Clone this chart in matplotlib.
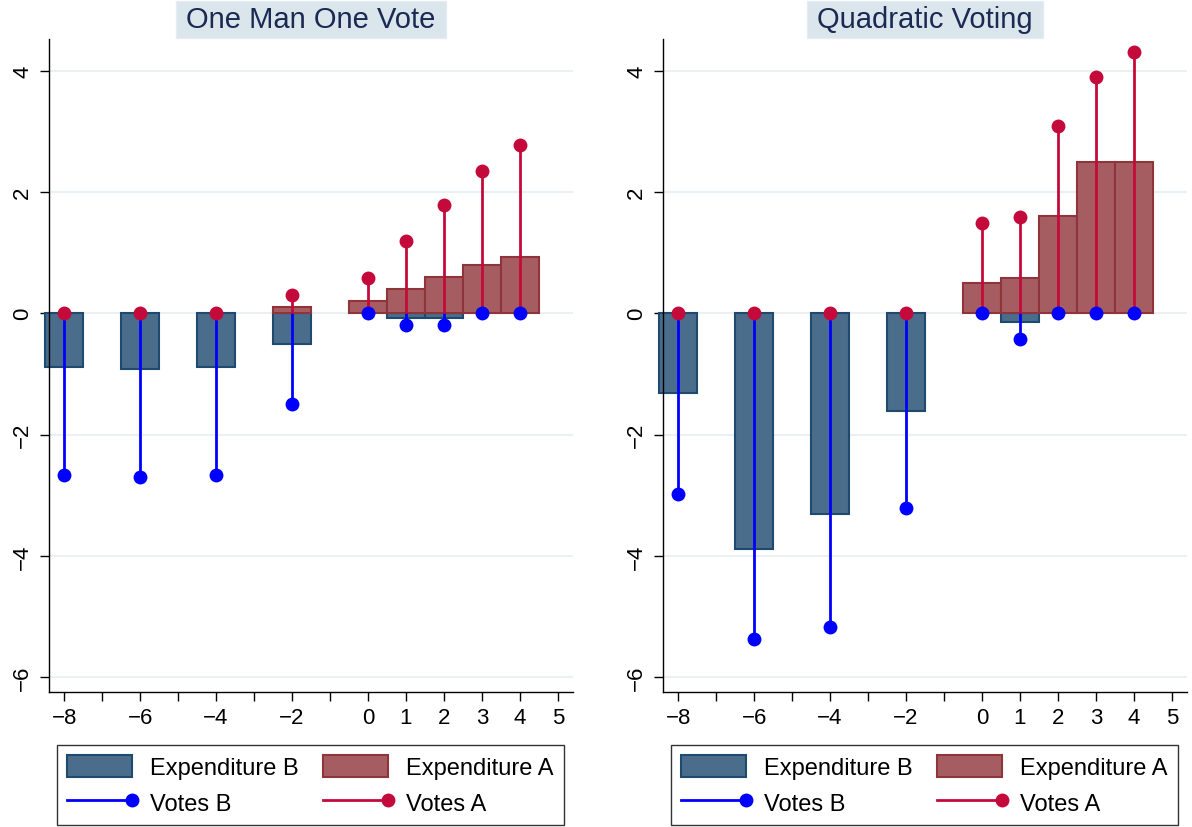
import numpy as np
import matplotlib
matplotlib.use("Agg")
import matplotlib.pyplot as plt
from matplotlib.patches import Patch, Rectangle
from matplotlib.lines import Line2D
from matplotlib.legend_handler import HandlerLine2D

plt.rcParams['font.family'] = ['Liberation Sans', 'DejaVu Sans']

# positions on the x axis
x = np.array([-8, -6, -4, -2, 0, 1, 2, 3, 4])

# One Man One Vote
omov_exp_b = np.array([-0.89, -0.91, -0.89, -0.51, 0.0, -0.07, -0.07, 0.0, 0.0])
omov_exp_a = np.array([0.0, 0.0, 0.0, 0.10, 0.20, 0.40, 0.60, 0.79, 0.93])
omov_votes_b = np.array([-2.66, -2.69, -2.66, -1.50, 0.0, -0.20, -0.20, 0.0, 0.0])
omov_votes_a = np.array([0.0, 0.0, 0.0, 0.30, 0.59, 1.19, 1.79, 2.35, 2.78])

# Quadratic Voting
qv_exp_b = np.array([-1.31, -3.89, -3.31, -1.61, 0.0, -0.14, 0.0, 0.0, 0.0])
qv_exp_a = np.array([0.0, 0.0, 0.0, 0.0, 0.50, 0.58, 1.60, 2.50, 2.50])
qv_votes_b = np.array([-2.97, -5.37, -5.17, -3.21, 0.0, -0.43, 0.0, 0.0, 0.0])
qv_votes_a = np.array([0.0, 0.0, 0.0, 0.0, 1.49, 1.59, 3.08, 3.89, 4.30])

xticks = list(range(-8, 6))
xticklabels = ['\u22128', '', '\u22126', '', '\u22124', '', '\u22122', '',
               '0', '1', '2', '3', '4', '5']
yticks = [-6, -4, -2, 0, 2, 4]
yticklabels = ['\u22126', '\u22124', '\u22122', '0', '2', '4']

B_FILL, B_EDGE = '#4a6d8c', '#1f4a70'
A_FILL, A_EDGE = '#a65d62', '#8f343b'
BLUE, RED = '#0000ff', '#c40a3a'

W, H = 1192, 828
fig = plt.figure(figsize=(W / 100, H / 100), dpi=100)


def px_axes(left, top, right, bottom):
    return fig.add_axes([left / W, 1 - bottom / H, (right - left) / W,
                         (bottom - top) / H])


class HandlerDrop(HandlerLine2D):
    # line with the marker at its right end, like Stata's dropline key
    def create_artists(self, legend, orig_handle, xdescent, ydescent,
                       width, height, fontsize, trans):
        arts = super().create_artists(legend, orig_handle, xdescent, ydescent,
                                      width, height, fontsize, trans)
        line = arts[0]
        line.set_markevery([len(line.get_xdata()) - 1])
        return arts


panels = [
    ("One Man One Vote", omov_exp_b, omov_exp_a, omov_votes_b, omov_votes_a,
     (49, 40, 573, 693), (57, 745, 564, 826)),
    ("Quadratic Voting", qv_exp_b, qv_exp_a, qv_votes_b, qv_votes_a,
     (663, 40, 1187, 693), (671, 745, 1178, 826)),
]

titles = []
for title, exp_b, exp_a, votes_b, votes_a, box, lbox in panels:
    ax = px_axes(*box)
    mb = exp_b != 0
    ma = exp_a != 0
    ax.bar(x[mb], exp_b[mb], width=1, color=B_FILL, edgecolor=B_EDGE,
           linewidth=1.5, zorder=2, clip_on=False)
    ax.bar(x[ma], exp_a[ma], width=1, color=A_FILL, edgecolor=A_EDGE,
           linewidth=1.5, zorder=3, clip_on=False)
    ax.vlines(x, 0, votes_b, color=BLUE, lw=2, zorder=4)
    ax.vlines(x, 0, votes_a, color=RED, lw=2, zorder=5)
    ax.plot(x, votes_b, 'o', color=BLUE, ms=10, mec='none', zorder=6)
    ax.plot(x, votes_a, 'o', color=RED, ms=10, mec='none', zorder=7)

    ax.set_xlim(-8.40, 5.40)
    ax.set_ylim(-6.24, 4.52)
    ax.set_xticks(xticks)
    ax.set_xticklabels(xticklabels)
    ax.set_yticks(yticks)
    ax.set_yticklabels(yticklabels, rotation=90, va='center')
    ax.tick_params(direction='out', length=6.5, width=1, labelsize=16,
                   colors='black')
    ax.tick_params(axis='y', pad=5)
    ax.tick_params(axis='x', pad=4)
    ax.yaxis.grid(True, color='#eaf0f3', lw=1.5)
    ax.set_axisbelow(True)
    for s in ['top', 'right']:
        ax.spines[s].set_visible(False)
    for s in ['left', 'bottom']:
        ax.spines[s].set_linewidth(1)

    cx = (box[0] + box[2]) / 2
    t = fig.text(cx / W, 1 - 20.5 / H, title, ha='center', va='center',
                 fontsize=21, color='#1b2a52', zorder=3)
    titles.append(t)

    handles = [Patch(facecolor=B_FILL, edgecolor=B_EDGE, lw=1.5),
               Line2D([], [], color=BLUE, lw=2, marker='o', ms=10, mec='none'),
               Patch(facecolor=A_FILL, edgecolor=A_EDGE, lw=1.5),
               Line2D([], [], color=RED, lw=2, marker='o', ms=10, mec='none')]
    labels = ['Expenditure B', 'Votes B', 'Expenditure A', 'Votes A']
    l, tp, r, b = lbox
    leg = fig.legend(handles, labels, loc='lower left',
                     bbox_to_anchor=(l / W, 1 - b / H, (r - l) / W, (b - tp) / H),
                     mode='expand', ncol=2, fontsize=17, frameon=True,
                     fancybox=False, edgecolor='black', borderpad=0.43,
                     handlelength=2.75, handleheight=1.06, handletextpad=0.76,
                     labelspacing=0.5, borderaxespad=0,
                     handler_map={Line2D: HandlerDrop(numpoints=1)})
    leg.get_frame().set_linewidth(1)

# light title boxes sized to the text
fig.canvas.draw()
renderer = fig.canvas.get_renderer()
for t in titles:
    bb = t.get_window_extent(renderer)
    x0, x1 = bb.x0 - 10, bb.x1 + 10
    fig.patches.append(Rectangle((x0 / W, 1 - 39 / H), (x1 - x0) / W, 37 / H,
                                 transform=fig.transFigure, facecolor='#dae5ec',
                                 edgecolor='#e6edf1', lw=1, zorder=1))

fig.savefig('out.png', dpi=100, facecolor='white')
